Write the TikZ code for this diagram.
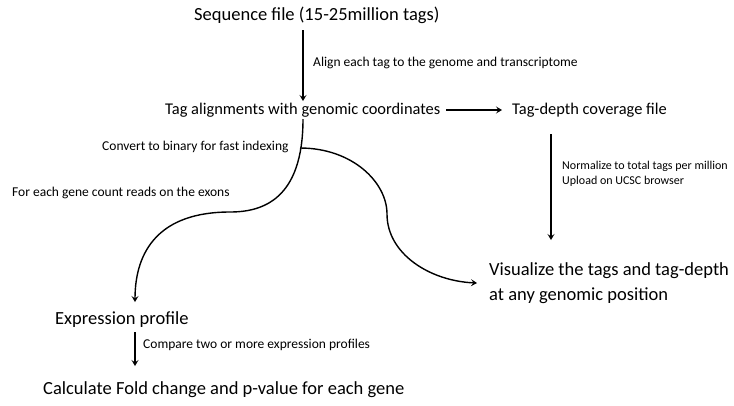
\documentclass[tikz,border=0pt]{standalone}
\usepackage{fontspec}
\setmainfont{Carlito}
\usetikzlibrary{arrows.meta}

\tikzset{
  stage/.style={inner sep=0pt, anchor=west, align=left, font=\fontsize{18.5}{25}\selectfont},
  midstage/.style={inner sep=0pt, anchor=west, font=\fontsize{16.4}{20}\selectfont},
  note/.style={inner sep=0pt, anchor=west, align=left, font=\fontsize{13.5}{15}\selectfont},
  flow/.style={line width=1.4pt, -{Stealth[length=6pt,width=7pt,inset=2.5pt]}}
}

\begin{document}
\begin{tikzpicture}[x=1pt,y=-1pt]
   \useasboundingbox (0,0) rectangle (734,405);
   % stages
   \node[stage] (seq) at (194,15) {Sequence file (15-25million tags)};
   \node[midstage] (aln) at (165,110) {Tag alignments with genomic coordinates};
   \node[midstage] (cov) at (512,110) {Tag-depth coverage file};
   \node[stage] (vis) at (489,283) {Visualize the tags and tag-depth\\at any genomic position};
   \node[stage] (expr) at (55,320) {Expression profile};
   \node[stage] (fold) at (43,390) {Calculate Fold change and p-value for each gene};
   % notes
   \node[note] (n1) at (313,63) {Align each tag to the genome and transcriptome};
   \node[note] (n2) at (102,147) {Convert to binary for fast indexing};
   \node[note] (n3) at (12,193) {For each gene count reads on the exons};
   \node[note, font=\fontsize{12}{15}\selectfont] (n4) at (562,174) {Normalize to total tags per million\\Upload on UCSC browser};
   \node[note] (n5) at (143,345) {Compare two or more expression profiles};
   % connectors
   \coordinate (split) at (300,148);
   \draw[flow] (303,30) -- (303,101);
   \draw[flow] ([xshift=6pt]aln.east) -- ([xshift=-10pt]cov.west);
   \draw[flow] (551,134) -- (551,240);
   \draw[flow] (303,119) .. controls (303,200) and (262,212) .. (230,212)
      .. controls (160,212) and (135,250) .. (135,302);
   \draw[flow] (split) .. controls (352,148) and (387,182) .. (387,214)
      .. controls (387,254) and (430,281) .. ([xshift=-12pt]vis.west);
   \draw[flow] (135,332) -- (135,366);
\end{tikzpicture}
\end{document}
